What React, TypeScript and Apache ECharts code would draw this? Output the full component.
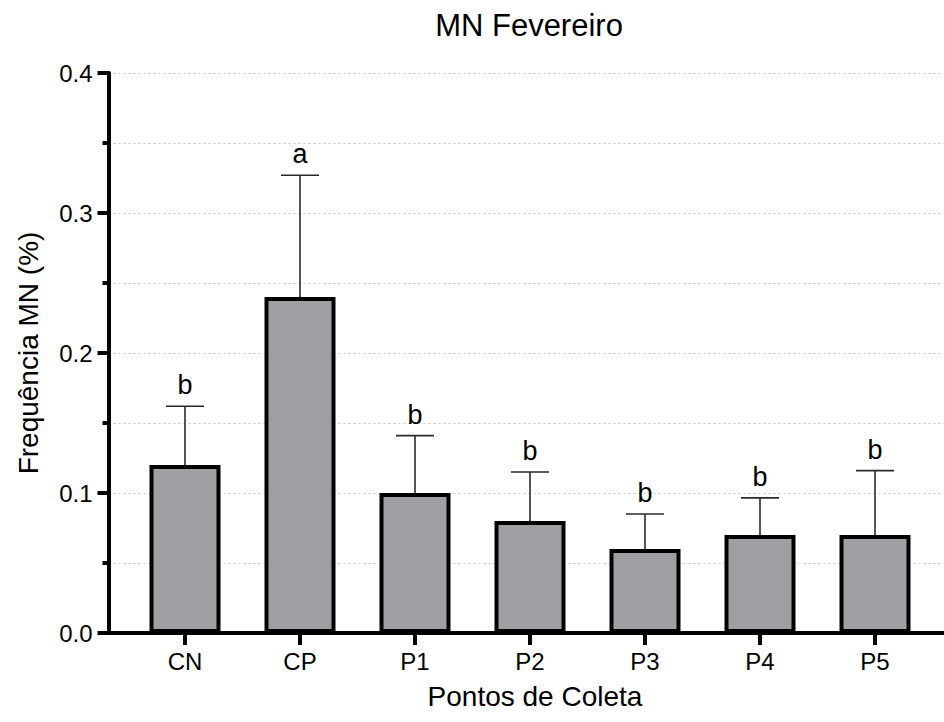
import React, { useEffect, useRef } from "react";
import * as echarts from "echarts";

const categories = ["CN", "CP", "P1", "P2", "P3", "P4", "P5"];
const means = [0.12, 0.24, 0.1, 0.08, 0.06, 0.07, 0.07];
const sds = [0.042, 0.087, 0.041, 0.035, 0.025, 0.0265, 0.046];
const letters = ["b", "a", "b", "b", "b", "b", "b"];
const yTicks = [0, 0.1, 0.2, 0.3, 0.4];

const FONT = '"Liberation Sans", Arial, sans-serif';

export default function App() {
  const ref = useRef<HTMLDivElement>(null);
  useEffect(() => {
    document.body.style.margin = "0";
    const chart = echarts.init(ref.current!, null, { renderer: "svg" });
    const top = 73;
    const bottom = 89;
    const yMin = yTicks[0];
    const yMax = yTicks[yTicks.length - 1];
    const yStep = yTicks[1] - yTicks[0];
    const errData = categories.map((_, i) => [i, means[i], means[i] + sds[i]]);

    chart.setOption({
      animation: false,
      backgroundColor: "#ffffff",
      grid: [
        { left: 108.5, right: 0, top, bottom },
        { left: 127.5, right: 11.5, top, bottom },
      ],
      xAxis: [
        {
          gridIndex: 0,
          type: "value",
          min: 0,
          max: 1,
          axisLine: { show: true, lineStyle: { color: "#000", width: 4 } },
          axisTick: { show: false },
          axisLabel: { show: false },
          splitLine: { show: false },
        },
        {
          gridIndex: 1,
          type: "category",
          data: categories,
          axisLine: { show: false },
          axisTick: {
            show: true,
            alignWithLabel: true,
            length: 12,
            lineStyle: { color: "#000", width: 4 },
          },
          axisLabel: {
            color: "#000",
            fontSize: 24,
            fontFamily: FONT,
            margin: 16,
          },
          splitLine: { show: false },
        },
      ],
      yAxis: [
        {
          gridIndex: 0,
          type: "value",
          min: yMin,
          max: yMax,
          interval: yStep,
          axisLine: { show: true, lineStyle: { color: "#000", width: 4 } },
          axisTick: { show: true, length: 11, lineStyle: { color: "#000", width: 4 } },
          minorTick: {
            show: true,
            splitNumber: 2,
            length: 6,
            lineStyle: { color: "#000", width: 4 },
          },
          axisLabel: {
            color: "#000",
            fontSize: 24,
            fontFamily: FONT,
            margin: 16,
            formatter: (v: number) => v.toFixed(1),
          },
          splitLine: { show: true, lineStyle: { color: "#c4c4c4", width: 1, type: [2, 3] } },
          minorSplitLine: { show: true, lineStyle: { color: "#c4c4c4", width: 1, type: [2, 3] } },
        },
        {
          gridIndex: 1,
          type: "value",
          min: yMin,
          max: yMax,
          show: false,
          splitLine: { show: false },
        },
      ],
      series: [
        {
          type: "bar",
          xAxisIndex: 1,
          yAxisIndex: 1,
          data: means,
          barWidth: 71,
          itemStyle: { color: "#9f9fa3", borderColor: "#000", borderWidth: 4 },
          z: 3,
        },
        {
          type: "custom",
          xAxisIndex: 1,
          yAxisIndex: 1,
          data: errData,
          clip: false,
          z: 2,
          renderItem: (params: any, api: any) => {
            const i = api.value(0);
            const lo = api.coord([i, api.value(1)]);
            const hi = api.coord([i, api.value(2)]);
            const half = 19;
            return {
              type: "group",
              children: [
                {
                  type: "line",
                  shape: { x1: lo[0], y1: lo[1], x2: hi[0], y2: hi[1] },
                  style: { stroke: "#2a2a2a", lineWidth: 1.6 },
                },
                {
                  type: "line",
                  shape: { x1: hi[0] - half, y1: hi[1], x2: hi[0] + half, y2: hi[1] },
                  style: { stroke: "#2a2a2a", lineWidth: 1.6 },
                },
                {
                  type: "text",
                  x: hi[0],
                  y: hi[1] - 21,
                  style: {
                    text: letters[params.dataIndex],
                    fontSize: 27,
                    fontFamily: FONT,
                    fill: "#000",
                    align: "center",
                    verticalAlign: "middle",
                  },
                },
              ],
            };
          },
        },
      ],
      graphic: [
        {
          type: "text",
          x: 529,
          y: 25,
          style: {
            text: "MN Fevereiro",
            fontSize: 31,
            fontFamily: FONT,
            fill: "#000",
            align: "center",
            verticalAlign: "middle",
          },
        },
        {
          type: "text",
          x: 535,
          y: 696,
          style: {
            text: "Pontos de Coleta",
            fontSize: 28,
            fontFamily: FONT,
            fill: "#000",
            align: "center",
            verticalAlign: "middle",
          },
        },
        {
          type: "text",
          x: 28,
          y: 353,
          rotation: Math.PI / 2,
          style: {
            text: "Frequência MN (%)",
            fontSize: 28,
            fontFamily: FONT,
            fill: "#000",
            align: "center",
            verticalAlign: "middle",
          },
        },
      ],
    });
    return () => chart.dispose();
  }, []);
  return <div ref={ref} style={{ width: 944, height: 722 }} />;
}
